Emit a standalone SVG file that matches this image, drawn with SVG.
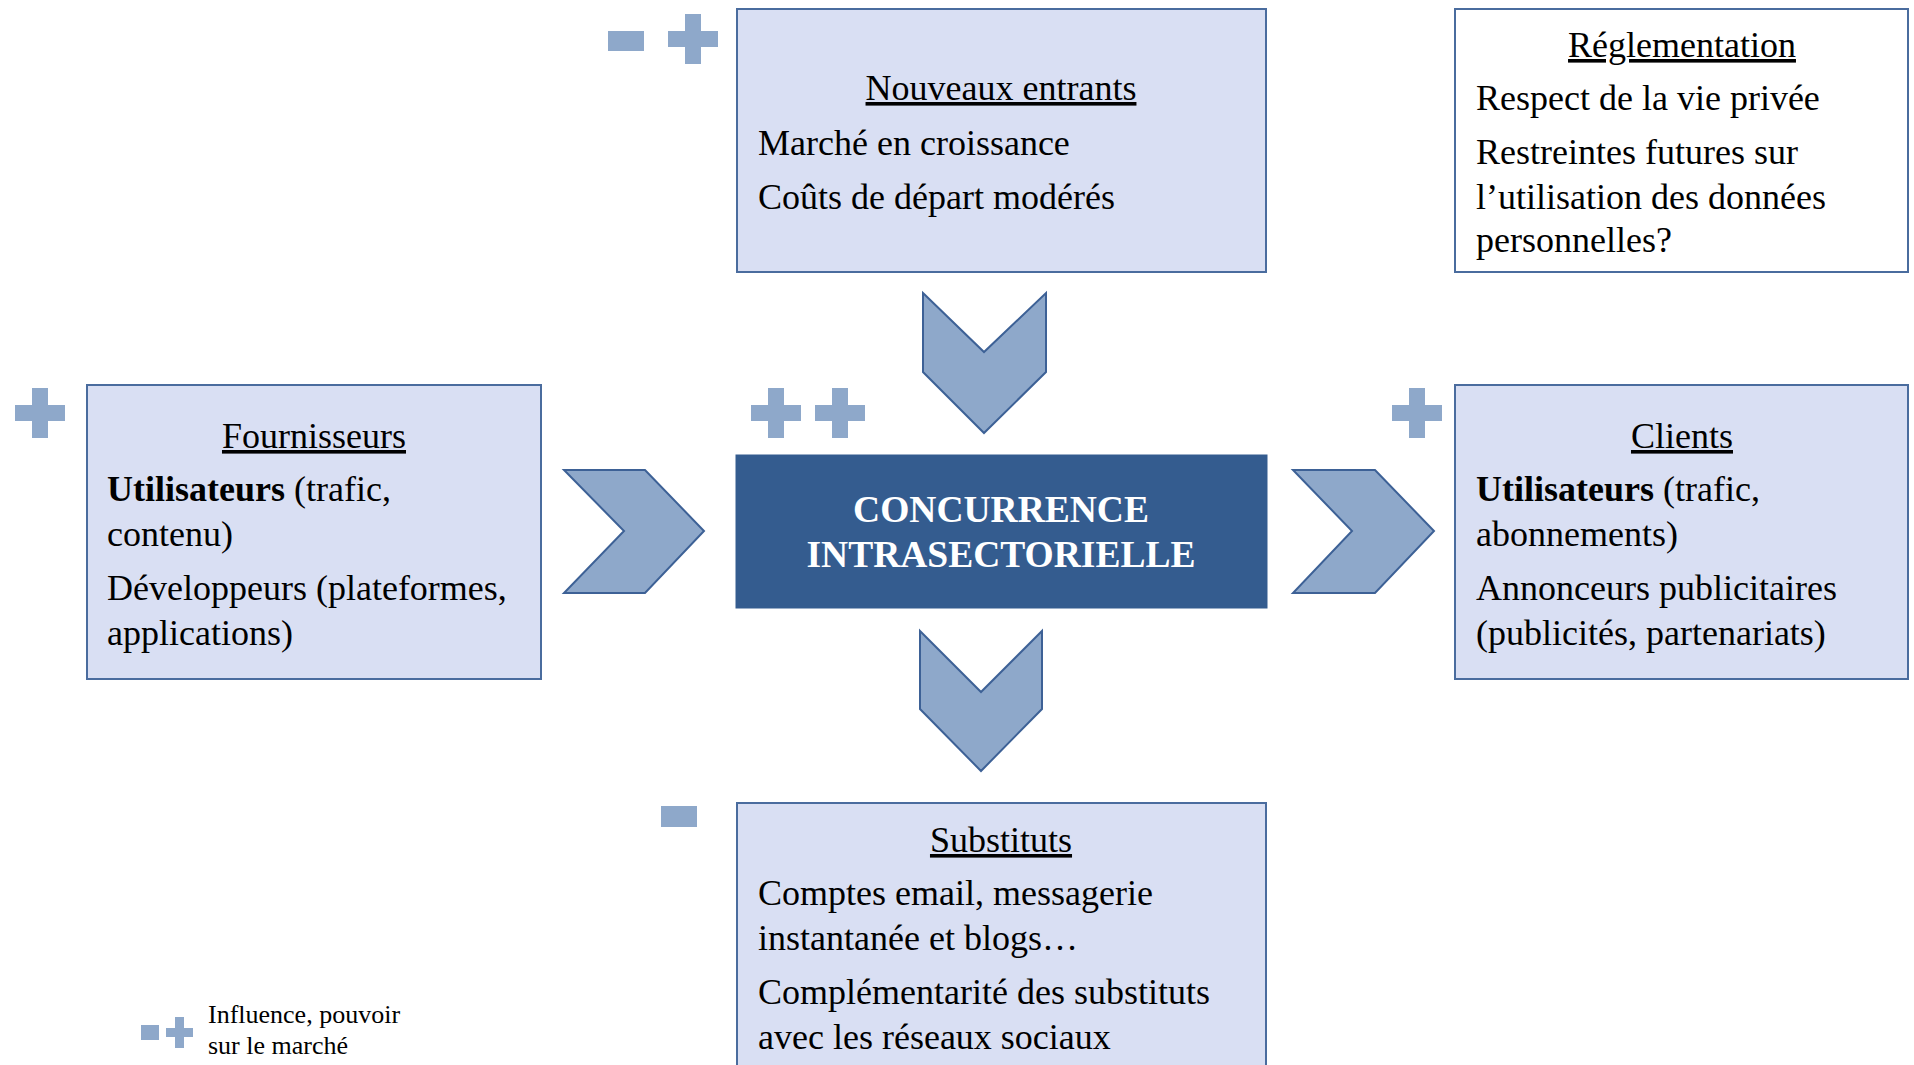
<svg xmlns="http://www.w3.org/2000/svg" width="1914" height="1065" viewBox="0 0 1914 1065">
<style>
.box{fill:#D9DFF3;stroke:#4A6C9E;stroke-width:2}
.wbox{fill:#FFFFFF;stroke:#4A6C9E;stroke-width:2}
.core{fill:#345C8F;stroke:#345C8F;stroke-width:1}
.chev{fill:#8EA8CA;stroke:#3D6196;stroke-width:2;stroke-linejoin:miter}
.sym{fill:#8EA8CA}
text{font-family:"Liberation Serif","Times New Roman",serif;font-size:36px;fill:#000}
.ttl{text-anchor:middle;text-decoration:underline}
.core-t{fill:#FFFFFF;font-weight:bold;font-size:37.5px;text-anchor:middle}
.b{font-weight:bold}
.leg{font-size:26px}
</style>
<defs>
<path id="plus" d="M-8,-25 H8 V-8 H25 V8 H8 V25 H-8 V8 H-25 V-8 H-8 Z"/>
</defs>

<g id="connectors">
<polygon class="chev" points="564,470 645,470 704,531 645,593 564,593 624,531"/>
<polygon class="chev" points="1293,470 1375,470 1434,531 1375,593 1293,593 1352,531"/>
<polygon class="chev" points="923,293 984,352 1046,293 1046,372 984,433 923,372"/>
<polygon class="chev" points="920,631 981,692 1042,631 1042,709 981,771 920,709"/>
</g>

<g id="nouveaux-entrants">
<rect class="box" x="737" y="9" width="529" height="263"/>
<text class="ttl" x="1001" y="100">Nouveaux entrants</text>
<text x="758" y="155">Marché en croissance</text>
<text x="758" y="209">Coûts de départ modérés</text>
</g>

<g id="reglementation">
<rect class="wbox" x="1455" y="9" width="453" height="263"/>
<text class="ttl" x="1682" y="57">Réglementation</text>
<text x="1476" y="110">Respect de la vie privée</text>
<text x="1476" y="164">Restreintes futures sur</text>
<text x="1476" y="209">l’utilisation des données</text>
<text x="1476" y="252">personnelles?</text>
</g>

<g id="fournisseurs">
<rect class="box" x="87" y="385" width="454" height="294"/>
<text class="ttl" x="314" y="448">Fournisseurs</text>
<text x="107" y="501"><tspan class="b">Utilisateurs</tspan> (trafic,</text>
<text x="107" y="546">contenu)</text>
<text x="107" y="600">Développeurs (plateformes,</text>
<text x="107" y="645">applications)</text>
</g>

<g id="concurrence">
<rect class="core" x="736" y="455" width="531" height="153"/>
<text class="core-t" x="1001" y="522">CONCURRENCE</text>
<text class="core-t" x="1001" y="567">INTRASECTORIELLE</text>
</g>

<g id="clients">
<rect class="box" x="1455" y="385" width="453" height="294"/>
<text class="ttl" x="1682" y="448">Clients</text>
<text x="1476" y="501"><tspan class="b">Utilisateurs</tspan> (trafic,</text>
<text x="1476" y="546">abonnements)</text>
<text x="1476" y="600">Annonceurs publicitaires</text>
<text x="1476" y="645">(publicités, partenariats)</text>
</g>

<g id="substituts">
<rect class="box" x="737" y="803" width="529" height="280"/>
<text class="ttl" x="1001" y="852">Substituts</text>
<text x="758" y="905">Comptes email, messagerie</text>
<text x="758" y="950">instantanée et blogs…</text>
<text x="758" y="1004">Complémentarité des substituts</text>
<text x="758" y="1049">avec les réseaux sociaux</text>
</g>

<g id="influence-markers">
<rect class="sym" x="608" y="31" width="36" height="20"/>
<use href="#plus" class="sym" x="693" y="39"/>
<use href="#plus" class="sym" x="40" y="413"/>
<use href="#plus" class="sym" x="776" y="413"/>
<use href="#plus" class="sym" x="840" y="413"/>
<use href="#plus" class="sym" x="1417" y="413"/>
<rect class="sym" x="661" y="806" width="36" height="21"/>
</g>

<g id="legend">
<rect class="sym" x="141" y="1025" width="18" height="15"/>
<path class="sym" d="M175,1017 H184 V1028 H193 V1037 H184 V1048 H175 V1037 H166 V1028 H175 Z"/>
<text class="leg" x="208" y="1023">Influence, pouvoir</text>
<text class="leg" x="208" y="1054">sur le marché</text>
</g>
</svg>
